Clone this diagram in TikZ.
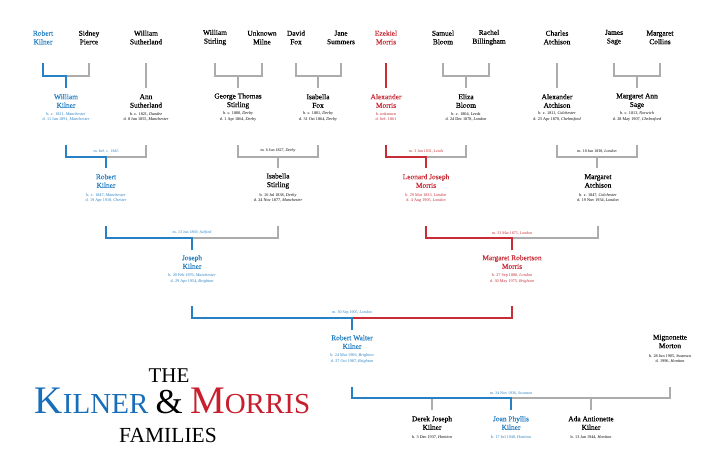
\documentclass[tikz,border=0pt]{standalone}
\usepackage{fontspec}
\setmainfont{Liberation Serif}
\newfontfamily\namefont[FakeBold=0.4]{Liberation Serif}
\definecolor{kblue}{RGB}{40,128,196}
\definecolor{mred}{RGB}{200,45,55}
\definecolor{lgrey}{RGB}{172,172,172}
\definecolor{tblue}{RGB}{25,110,185}
\definecolor{tred}{RGB}{200,30,45}
\tikzset{
 pname/.style={align=center, inner sep=0pt, font=\namefont\fontsize{7.4}{8.6}\selectfont},
 pdates/.style={align=center, inner sep=0pt, font=\fontsize{4.2}{5.2}\selectfont},
 mlabel/.style={inner sep=0pt, font=\fontsize{4}{5}\selectfont},
 gline/.style={draw=lgrey, line width=1.2pt},
 bline/.style={draw=kblue, line width=1.6pt},
 rline/.style={draw=mred, line width=1.6pt},
 kb/.style={text=kblue},
 mr/.style={text=mred},
}
\begin{document}
\begin{tikzpicture}[x=1pt,y=-1pt]
\useasboundingbox[fill=white] (0,0) rectangle (717,463);

% ---------- Row 1 ----------
\node[pname,kb] (rk1) at (43,37.5) {Robert\\Kilner};
\node[pname] (sp) at (89,37.5) {Sidney\\Pierce};
\node[pname] (ws) at (146,37.5) {William\\Sutherland};
\node[pname] (wst) at (215,37.5) {William\\Stirling};
\node[pname] (um) at (262,37.5) {Unknown\\Milne};
\node[pname] (df) at (296,37.5) {David\\Fox};
\node[pname] (js) at (341,37.5) {Jane\\Summers};
\node[pname,mr] (em) at (386,37.5) {Ezekiel\\Morris};
\node[pname] (sb) at (443,37.5) {Samuel\\Bloom};
\node[pname] (rb) at (489,37.5) {Rachel\\Billingham};
\node[pname] (ca) at (557,37.5) {Charles\\Atchison};
\node[pname] (jsa) at (614,37.5) {James\\Sage};
\node[pname] (mc) at (660,37.5) {Margaret\\Collins};

% ---------- Row 2 ----------
\node[pname,kb] (wk) at (66,101) {William\\Kilner};
\node[pdates,kb] (wkd) at (66,116.5) {b. c. 1821, \textit{Manchester}\\d. 11 Jun 1891, \textit{Manchester}};
\node[pname] (as) at (146,101) {Ann\\Sutherland};
\node[pdates] (asd) at (146,116.5) {b. c. 1821, \textit{Dundee}\\d. 8 Jun 1855, \textit{Manchester}};
\node[pname] (gts) at (238,101) {George Thomas\\Stirling};
\node[pdates] (gtsd) at (238,116.5) {b. c. 1800, \textit{Derby}\\d. 1 Apr 1864, \textit{Derby}};
\node[pname] (if) at (318,101) {Isabella\\Fox};
\node[pdates] (ifd) at (318,116.5) {b. c. 1801, \textit{Derby}\\d. 31 Oct 1864, \textit{Derby}};
\node[pname,mr] (am) at (386,101) {Alexander\\Morris};
\node[pdates,mr] (amd) at (386,116.5) {b. unknown\\d. bef. 1861};
\node[pname] (eb) at (466,101) {Eliza\\Bloom};
\node[pdates] (ebd) at (466,116.5) {b. c. 1804, \textit{Leeds}\\d. 24 Dec 1878, \textit{London}};
\node[pname] (aa) at (557,101) {Alexander\\Atchison};
\node[pdates] (aad) at (557,116.5) {b. c. 1811, \textit{Colchester}\\d. 23 Apr 1870, \textit{Chelmsford}};
\node[pname] (mas) at (637,101) {Margaret Ann\\Sage};
\node[pdates] (masd) at (637,116.5) {b. c. 1813, \textit{Norwich}\\d. 28 May 1907, \textit{Chelmsford}};

% ---------- Row 3 ----------
\node[pname,kb] (rk2) at (106,181) {Robert\\Kilner};
\node[pdates,kb] (rk2d) at (106,198) {b. c. 1847, \textit{Manchester}\\d. 19 Apr 1910, \textit{Chester}};
\node[pname] (ist) at (278,181) {Isabella\\Stirling};
\node[pdates] (istd) at (278,198) {b. 16 Jul 1838, \textit{Derby}\\d. 24 Nov 1877, \textit{Manchester}};
\node[pname,mr] (ljm) at (426,181) {Leonard Joseph\\Morris};
\node[pdates,mr] (ljmd) at (426,198) {b. 29 Mar 1833, \textit{London}\\d. 4 Aug 1905, \textit{London}};
\node[pname] (mat) at (598,181) {Margaret\\Atchison};
\node[pdates] (matd) at (598,198) {b. c. 1847, \textit{Colchester}\\d. 19 Nov 1934, \textit{London}};

% ---------- Row 4 ----------
\node[pname,kb] (jk) at (192,262) {Joseph\\Kilner};
\node[pdates,kb] (jkd) at (192,278.5) {b. 20 Feb 1876, \textit{Manchester}\\d. 29 Apr 1954, \textit{Brighton}};
\node[pname,mr] (mrm) at (512,262) {Margaret Robertson\\Morris};
\node[pdates,mr] (mrmd) at (512,278.5) {b. 27 Sep 1880, \textit{London}\\d. 30 May 1975, \textit{Brighton}};

% ---------- Row 5 ----------
\node[pname,kb] (rwk) at (352,342) {Robert Walter\\Kilner};
\node[pdates,kb] (rwkd) at (352,358.5) {b. 24 Mar 1906, \textit{Brighton}\\d. 27 Oct 1987, \textit{Brighton}};
\node[pname] (mm) at (670,341.5) {Mignonette\\Morton};
\node[pdates] (mmd) at (670,359) {b. 28 Jun 1905, \textit{Swansea}\\d. 1996, \textit{Honiton}};

% ---------- Row 6 ----------
\node[pname] (djk) at (432,423) {Derek Joseph\\Kilner};
\node[pdates] (djkd) at (432,437) {b. 3 Dec 1937, \textit{Honiton}};
\node[pname,kb] (jpk) at (511,423) {Joan Phyllis\\Kilner};
\node[pdates,kb] (jpkd) at (511,437) {b. 17 Jul 1940, \textit{Honiton}};
\node[pname] (aak) at (591,423) {Ada Antionette\\Kilner};
\node[pdates] (aakd) at (591,437) {b. 13 Jan 1944, \textit{Honiton}};

% ---------- Connectors row 1 -> row 2 ----------
\draw[gline] (66,76) -| (89,63);
\draw[bline] (43,63) |- (66,76) -- (66,88);
\draw[gline] (146,63) -- (146,88);
\draw[gline] (215,63) |- (262,76) -- (262,63) (238,76) -- (238,88);
\draw[gline] (296,63) |- (341,76) -- (341,63) (318,76) -- (318,88);
\draw[rline] (386,63) -- (386,88);
\draw[gline] (443,63) |- (489,76) -- (489,63) (466,76) -- (466,88);
\draw[gline] (557,63) -- (557,88);
\draw[gline] (614,63) |- (660,76) -- (660,63) (637,76) -- (637,88);

% ---------- Connectors row 2 -> row 3 ----------
\draw[gline] (106,157) -| (146,145);
\draw[bline] (66,145) |- (106,157) -- (106,168);
\node[mlabel,kb] (m1) at (106,151) {m. bef. c. 1845};
\draw[gline] (238,145) |- (318,157) -- (318,145) (278,157) -- (278,168);
\node[mlabel] (m2) at (278,151) {m. 6 Jun 1827, \textit{Derby}};
\draw[gline] (426,157) -| (466,145);
\draw[rline] (386,145) |- (426,157) -- (426,168);
\node[mlabel,mr] (m3) at (426,151) {m. 3 Jun 1831, \textit{Leeds}};
\draw[gline] (557,145) |- (637,157) -- (637,145) (597,157) -- (597,168);
\node[mlabel] (m4) at (597,151) {m. 10 Jun 1838, \textit{London}};

% ---------- Connectors row 3 -> row 4 ----------
\draw[gline] (192,238) -| (278,226);
\draw[bline] (106,226) |- (192,238) -- (192,250);
\node[mlabel,kb] (m5) at (192,233) {m. 13 Jun 1869, \textit{Salford}};
\draw[gline] (512,238) -| (598,226);
\draw[rline] (426,226) |- (512,238) -- (512,250);
\node[mlabel,mr] (m6) at (512,233) {m. 23 Mar 1875, \textit{London}};

% ---------- Connectors row 4 -> row 5 ----------
\draw[rline] (352,318) -| (512,306);
\draw[bline] (192,306) |- (352,318) -- (352,330);
\node[mlabel,kb] (m7) at (352,313) {m. 30 Sep 1905, \textit{London}};

% ---------- Connectors row 5 -> row 6 ----------
\draw[gline] (511,398) -| (670,387) (432,398) -- (432,410) (591,398) -- (591,410);
\draw[bline] (352,387) |- (511,398) -- (511,410);
\node[mlabel,kb] (m8) at (511,393) {m. 24 Nov 1936, \textit{Swansea}};

% ---------- Title ----------
\node[anchor=base, inner sep=0pt, font=\fontsize{21}{21}\selectfont] (tthe) at (169,382.5) {THE};
\node[anchor=base, inner sep=0pt] (tkm) at (172.5,413) {\color{tblue}\fontsize{39}{39}\selectfont K\fontsize{29}{29}\selectfont ILNER \color{black}\fontsize{35}{35}\selectfont\&\fontsize{29}{29}\selectfont{} \color{tred}\fontsize{39}{39}\selectfont M\fontsize{29}{29}\selectfont ORRIS};
\node[anchor=base, inner sep=0pt, font=\fontsize{21.5}{21.5}\selectfont] (tfam) at (168,442) {FAMILIES};
\end{tikzpicture}
\end{document}
